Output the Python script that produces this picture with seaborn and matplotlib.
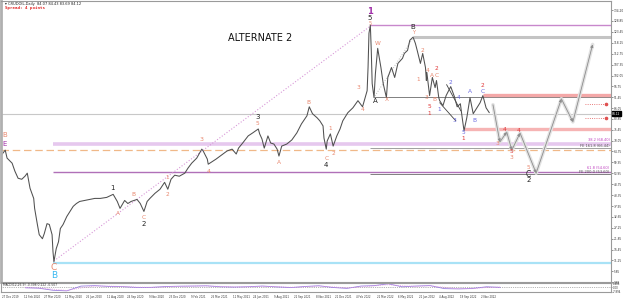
import matplotlib
matplotlib.use("Agg")
import matplotlib.pyplot as plt
import matplotlib.dates as mdates
import matplotlib.transforms as mtransforms
import pandas as pd
import seaborn as sns

sns.set_theme(style="white")
plt.rcParams["font.family"] = ["DejaVu Sans"]

# daily close (turning points)
price_dates = [
    "2019-12-23", "2020-01-02", "2020-01-06", "2020-01-17", "2020-01-23", "2020-01-30",
    "2020-02-07", "2020-02-14", "2020-02-19", "2020-02-25", "2020-03-04", "2020-03-06",
    "2020-03-09", "2020-03-12", "2020-03-16", "2020-03-23", "2020-03-27", "2020-04-02",
    "2020-04-07", "2020-04-13", "2020-04-15", "2020-04-17", "2020-04-22", "2020-04-27",
    "2020-05-01", "2020-05-07", "2020-05-15", "2020-05-22", "2020-05-29", "2020-06-05",
    "2020-06-12", "2020-06-23", "2020-07-03", "2020-07-15", "2020-07-27", "2020-08-10",
    "2020-08-24", "2020-09-02", "2020-09-08", "2020-09-14", "2020-09-18", "2020-09-25",
    "2020-10-02", "2020-10-15", "2020-10-22", "2020-10-30", "2020-11-06", "2020-11-12",
    "2020-11-23", "2020-12-04", "2020-12-14", "2020-12-21", "2020-12-28", "2021-01-05",
    "2021-01-15", "2021-01-27", "2021-02-03", "2021-02-11", "2021-02-22", "2021-03-05",
    "2021-03-08", "2021-03-17", "2021-03-19", "2021-03-29", "2021-04-05", "2021-04-14",
    "2021-04-29", "2021-05-10", "2021-05-19", "2021-05-24", "2021-06-02", "2021-06-14",
    "2021-06-24", "2021-07-06", "2021-07-09", "2021-07-14", "2021-07-19", "2021-07-27",
    "2021-08-02", "2021-08-09", "2021-08-16", "2021-08-20", "2021-08-26", "2021-09-06",
    "2021-09-17", "2021-09-28", "2021-10-08", "2021-10-20", "2021-10-25", "2021-11-01",
    "2021-11-11", "2021-11-17", "2021-11-24", "2021-11-26", "2021-12-01", "2021-12-03",
    "2021-12-10", "2021-12-16", "2021-12-24", "2021-12-31", "2022-01-06", "2022-01-17",
    "2022-01-28", "2022-02-08", "2022-02-18", "2022-02-28", "2022-03-02", "2022-03-04",
    "2022-03-07", "2022-03-09", "2022-03-11", "2022-03-15", "2022-03-18", "2022-03-22",
    "2022-03-23", "2022-03-30", "2022-04-04", "2022-04-11", "2022-04-14", "2022-04-22",
    "2022-04-29", "2022-05-06", "2022-05-16", "2022-05-20", "2022-05-27", "2022-06-01",
    "2022-06-08", "2022-06-13", "2022-06-17", "2022-06-24", "2022-06-29", "2022-07-05",
    "2022-07-07", "2022-07-08", "2022-07-14", "2022-07-20", "2022-07-26", "2022-07-29",
    "2022-08-03", "2022-08-05", "2022-08-12", "2022-08-19", "2022-08-29", "2022-09-06",
    "2022-09-12", "2022-09-19", "2022-09-23", "2022-09-27", "2022-10-03", "2022-10-10",
    "2022-10-17", "2022-10-25", "2022-11-01", "2022-11-07", "2022-11-14", "2022-11-21",
]
price_close = [
    62.5, 65.4, 61.5, 59.0, 55.1, 51.6,
    51.1, 52.6, 54.1, 46.7, 41.7, 36.8,
    32.8, 28.9, 23.9, 21.9, 24.4, 29.3,
    28.9, 23.9, 15.5, 10.6, 17.0, 20.4,
    26.9, 28.9, 32.8, 35.3, 37.8, 39.2,
    40.2, 40.7, 41.2, 41.7, 41.7, 42.2,
    43.7, 40.2, 36.8, 39.2, 40.7, 39.2,
    40.2, 41.2, 39.2, 35.3, 40.2, 41.7,
    44.2, 46.2, 49.6, 46.2, 51.1, 53.1,
    52.6, 54.1, 56.6, 59.0, 61.5, 65.9,
    65.0, 61.0, 58.5, 60.0, 61.0, 62.5,
    65.0, 65.9, 63.5, 66.4, 68.9, 72.4,
    73.9, 75.8, 73.4, 70.9, 66.4, 72.4,
    68.9, 68.4, 65.9, 62.5, 67.4, 68.4,
    70.4, 73.9, 78.3, 82.3, 86.7, 83.3,
    81.3, 79.8, 77.3, 71.4, 65.9, 69.9,
    73.4, 67.4, 72.4, 75.8, 79.8, 83.8,
    86.2, 89.7, 86.7, 94.6, 106.0, 122.8,
    126.8, 114.4, 98.1, 91.2, 103.0, 112.9,
    115.4, 106.0, 98.1, 91.2, 101.1, 106.0,
    101.1, 108.0, 110.5, 112.9, 114.4, 119.4,
    120.9, 117.9, 114.4, 108.0, 112.9, 106.0,
    99.6, 103.6, 92.2, 101.1, 96.1, 99.6,
    91.2, 89.7, 87.2, 92.2, 96.6, 91.7,
    86.7, 88.2, 81.3, 74.9, 81.3, 91.2,
    83.3, 86.2, 88.7, 92.2, 86.2, 83.8,
]

# projected path (arrows)
proj_dates = ["2022-11-29", "2022-12-14", "2022-12-29", "2023-01-09", "2023-01-27",
              "2023-03-03", "2023-04-27", "2023-05-22", "2023-07-04"]
proj_price = [87.7, 69.4, 74.3, 65.4, 73.8, 54.1, 90.6, 79.3, 117.3]

ytick_labels = ["0.65", "5.85", "11.25", "16.45", "21.85", "27.25", "32.65", "37.95",
                "43.35", "48.75", "53.95", "59.35", "64.75", "70.05", "75.45", "80.85",
                "86.05", "91.45", "96.75", "102.05", "107.35", "112.75", "118.15",
                "123.45", "128.85", "134.20"]

date_ticks = ["2019-12-27", "2020-02-12", "2020-03-27", "2020-05-12", "2020-06-26",
              "2020-08-11", "2020-09-24", "2020-11-09", "2020-12-23", "2021-02-09",
              "2021-03-25", "2021-05-11", "2021-06-24", "2021-08-09", "2021-09-22",
              "2021-11-08", "2021-12-21", "2022-02-04", "2022-03-22", "2022-05-06",
              "2022-06-21", "2022-08-04", "2022-09-19", "2022-11-02"]
date_labels = ["27 Dec 2019", "12 Feb 2020", "27 Mar 2020", "12 May 2020", "26 Jun 2020",
               "11 Aug 2020", "24 Sep 2020", "9 Nov 2020", "23 Dec 2020", "9 Feb 2021",
               "25 Mar 2021", "11 May 2021", "24 Jun 2021", "9 Aug 2021", "22 Sep 2021",
               "8 Nov 2021", "21 Dec 2021", "4 Feb 2022", "22 Mar 2022", "6 May 2022",
               "21 Jun 2022", "4 Aug 2022", "19 Sep 2022", "2 Nov 2022"]

macd_main = [-1.2, -1.8, -5.5, -6.5, 1.8, 2.6, 1.2, 0.8, -0.6, -0.4, 1.0, 1.6,
             1.9, 2.3, 0.6, 0.1, 0.7, 1.9, 0.4, -0.8, 1.1, 2.4, -0.6, -2.2,
             1.9, 2.6, 5.8, 0.6, 1.9, 2.7, -2.6, -3.1, -2.4, 0.6, -0.4]
macd_signal = [-0.5, -1.5, -3.5, -5.8, -1.5, 1.8, 1.8, 1.0, 0.1, -0.4, 0.4, 1.3,
               1.8, 2.1, 1.3, 0.4, 0.5, 1.4, 1.0, -0.2, 0.4, 1.8, 0.6, -1.3,
               0.2, 2.2, 4.2, 2.4, 1.3, 2.3, -0.2, -2.7, -2.7, -0.6, 0.0]

# wave labels: (date, price, text, colour, size)
ORG, RED, BLU, BLK, PUR, CYN = "#e8876e", "#e03535", "#6a6ae0", "#222222", "#a030a8", "#38b8f0"
wave_labels = [
    ("2020-01-01", 72.6, "B", ORG, 5), ("2020-01-01", 68.2, "E", PUR, 5),
    ("2020-08-23", 46.7, "1", BLK, 5), ("2020-09-03", 34.3, "A", ORG, 4.2),
    ("2020-10-06", 43.7, "B", ORG, 4.2), ("2020-10-29", 32.3, "C", ORG, 4.2),
    ("2020-10-29", 29.0, "2", BLK, 5), ("2020-04-17", 7.9, "C", ORG, 6.5),
    ("2020-04-17", 4.0, "B", CYN, 6.5), ("2020-12-20", 52.1, "1", ORG, 4.2),
    ("2020-12-20", 43.7, "2", ORG, 4.2), ("2021-03-05", 70.4, "3", ORG, 4.5),
    ("2021-03-19", 55.1, "4", ORG, 4.5), ("2021-07-04", 81.8, "3", BLK, 5),
    ("2021-07-04", 78.6, "5", ORG, 4.2), ("2021-08-20", 59.5, "A", ORG, 4.2),
    ("2021-10-23", 89.0, "B", ORG, 4.2), ("2021-12-01", 61.3, "C", ORG, 4.2),
    ("2021-12-01", 58.0, "4", BLK, 5), ("2021-12-10", 75.8, "1", ORG, 4.2),
    ("2021-12-17", 63.6, "2", ORG, 4.2), ("2022-02-10", 96.1, "3", ORG, 4.2),
    ("2022-02-19", 85.2, "4", ORG, 4.2), ("2022-03-06", 133.6, "1", PUR, 6),
    ("2022-03-06", 130.3, "5", BLK, 5), ("2022-03-06", 127.6, "5", ORG, 3.6),
    ("2022-03-23", 117.9, "W", ORG, 4.2), ("2022-03-17", 89.7, "A", BLK, 5),
    ("2022-04-12", 90.2, "X", ORG, 4.2), ("2022-06-08", 126.0, "B", BLK, 5),
    ("2022-06-08", 123.3, "Y", ORG, 3.6), ("2022-06-29", 114.4, "2", ORG, 4.2),
    ("2022-06-20", 100.1, "1", ORG, 4.2), ("2022-07-10", 104.5, "4", ORG, 4.2),
    ("2022-07-07", 91.2, "3", ORG, 4.2), ("2022-07-20", 102.1, "A", ORG, 4.2),
    ("2022-07-30", 105.5, "2", RED, 4.2), ("2022-07-30", 102.1, "C", ORG, 4.2),
    ("2022-07-25", 90.2, "B", ORG, 4.2), ("2022-07-13", 86.7, "5", RED, 4.2),
    ("2022-07-13", 83.6, "1", RED, 4.2), ("2022-08-05", 85.2, "1", BLU, 4.2),
    ("2022-08-29", 98.6, "2", BLU, 4.2), ("2022-09-14", 91.2, "4", BLU, 4.2),
    ("2022-09-07", 79.8, "3", BLU, 4.2), ("2022-10-10", 94.1, "A", BLU, 4.2),
    ("2022-10-19", 79.8, "B", BLU, 4.2), ("2022-09-26", 73.9, "5", BLU, 4.2),
    ("2022-09-26", 70.9, "1", RED, 4.2), ("2022-11-07", 97.1, "2", RED, 4.2),
    ("2022-11-07", 94.1, "C", BLU, 4.2), ("2022-12-08", 68.9, "3", ORG, 4.2),
    ("2022-12-25", 75.3, "4", RED, 4.2), ("2023-01-23", 74.9, "4", RED, 4.2),
    ("2023-01-09", 64.5, "5", RED, 4.2), ("2023-01-09", 61.8, "3", ORG, 4.2),
    ("2023-02-14", 57.0, "5", ORG, 4.2), ("2023-02-14", 53.6, "C", BLK, 5.5),
    ("2023-02-14", 50.5, "2", BLK, 5),
]

fig = plt.figure(figsize=(6.25, 3.01), dpi=100)
ax = fig.add_axes([1 / 625, 19 / 301, 610 / 625, 281 / 301])
axm = fig.add_axes([1 / 625, 9 / 301, 610 / 625, 9 / 301], sharex=ax)

x0, x1 = pd.Timestamp("2019-12-23 19:00"), pd.Timestamp("2023-08-13")
right = x1


def d(s):
    return mdates.date2num(pd.Timestamp(s))


# horizontal levels
ax.hlines(83.3, d(x0), d(x1), color="#c8c8c8", lw=0.8)  # bid line
ax.hlines(126.8, d("2022-03-07"), d(right), color="#c888cc", lw=1.0)
ax.hlines(120.9, d("2022-06-08"), d(right), color="#c4c4c4", lw=2.2)
ax.hlines(91.7, d("2022-03-15"), d(right), color="#808080", lw=0.7)
ax.hlines(92.6, d("2022-11-07"), d(right), color="#f4a8a8", lw=2.4)
ax.hlines(75.8, d("2022-09-27"), d(right), color="#f6b4b4", lw=2.4)
ax.hlines(68.4, d("2020-04-15"), d(right), color="#e6c8ee", lw=2.6)
ax.hlines(66.4, d("2022-03-07"), d(right), color="#909090", lw=0.6)
ax.hlines(65.45, d(x0), d(right), color="#f0b888", lw=0.9, linestyles=(0, (6, 3)))
ax.hlines(54.6, d("2020-04-15"), d(right), color="#b070b8", lw=1.0)
ax.hlines(53.6, d("2022-03-07"), d(right), color="#808080", lw=0.7)
ax.hlines(10.0, d("2020-04-15"), d(right), color="#a8e2f6", lw=1.6)
for lvl in (88.2, 81.3):
    ax.hlines(lvl, d("2023-06-17"), d("2023-08-01"), color="#e05050", lw=0.6, linestyles=":")
    ax.plot(d("2023-08-03"), lvl, marker="o", ms=1.6, color="#e05050")

# dotted trend lines
ax.plot([d("2020-04-17"), d("2022-03-07")], [11.0, 126.3], ls=":", lw=0.8, color="#d898d8")
ax.plot([d("2022-03-17"), d("2022-06-08")], [92.0, 120.5], ls=":", lw=0.7, color="#b8b8b8")
ax.plot([d("2022-08-05"), d("2022-09-09")], [88.7, 79.8], lw=0.6, color="#404040")
ax.plot([d("2022-08-20"), d("2022-09-20")], [97.6, 84.7], lw=0.6, color="#404040")

# price
df = pd.DataFrame({"date": pd.to_datetime(price_dates), "close": price_close})
sns.lineplot(data=df, x="date", y="close", ax=ax, color="#505050", lw=0.75)

# projected path with shadow and arrow heads
pj = pd.DataFrame({"date": pd.to_datetime(proj_dates), "price": proj_price})
sns.lineplot(data=pj, x="date", y="price", ax=ax, color="#e2e2e2", lw=2.6)
for i in range(len(pj) - 1):
    ax.annotate("", xy=(d(pj.date[i + 1]), pj.price[i + 1]),
                xytext=(d(pj.date[i]), pj.price[i]),
                arrowprops=dict(arrowstyle="-|>", color="#8c8c8c", lw=0.6,
                                mutation_scale=4, shrinkA=0, shrinkB=0))

for dt, p, t, c, s in wave_labels:
    ax.text(d(dt), p, t, color=c, fontsize=s, ha="center", va="center",
            fontweight="bold" if c == PUR and s >= 6 else "normal")

ax.text(d("2021-07-10"), 120.4, "ALTERNATE 2", fontsize=7, ha="center", va="center",
        color="#111111")

# fibo texts at right
ax.text(d("2023-08-10"), 69.6, "38.2 (68.40)", color="#c040c0", fontsize=2.6, ha="right", va="bottom")
ax.text(d("2023-08-10"), 66.7, "FE 161.8 (66.44)", color="#505050", fontsize=2.6, ha="right", va="bottom")
ax.text(d("2023-08-10"), 55.5, "61.8 (54.60)", color="#c040c0", fontsize=2.6, ha="right", va="bottom")
ax.text(d("2023-08-10"), 53.9, "FE 200.0 (53.60)", color="#505050", fontsize=2.6, ha="right", va="bottom")

ax.set_xlim(d(x0), d(x1))
ax.set_ylim(0.67, 138.65)
ax.set_xlabel("")
ax.set_ylabel("")
ax.yaxis.tick_right()
ax.set_yticks([float(v) for v in ytick_labels])
ax.set_yticklabels(ytick_labels, fontsize=2.1, color="#333333")
ax.tick_params(axis="y", length=1.2, width=0.5, pad=0.6, color="#666666")
ax.tick_params(axis="x", length=0, labelbottom=False)
for side, sp in ax.spines.items():
    sp.set_color("#9a9a9a")
    sp.set_linewidth(0.8)
ax.spines["left"].set_linewidth(2.0)
ax.spines["left"].set_color("#b0b0b0")

# current price box
tr = mtransforms.blended_transform_factory(ax.transAxes, ax.transData)
ax.text(1.002, 83.3, "84.12", transform=tr, fontsize=2.1, color="white", ha="left", va="center",
        bbox=dict(boxstyle="square,pad=0.2", fc="black", ec="black"))

# MACD panel
mdf = pd.DataFrame({"date": pd.date_range("2020-01-15", periods=len(macd_main), freq="MS")
                    + pd.Timedelta(days=14),
                    "main": macd_main, "signal": macd_signal})
axm.axhline(0, color="#707070", lw=0.5, ls=":")
sns.lineplot(data=mdf, x="date", y="main", ax=axm, color="#9a7ee0", lw=0.6)
sns.lineplot(data=mdf, x="date", y="signal", ax=axm, color="#e090e0", lw=0.6, ls=":")
axm.set_ylim(-8.5, 7.2)
axm.set_xlabel("")
axm.set_ylabel("")
axm.yaxis.tick_right()
axm.set_yticks([6.405, 0.0, -7.894])
axm.set_yticklabels(["6.405", "0.00", "-7.894"], fontsize=1.9, color="#333333")
axm.tick_params(axis="y", length=1.0, width=0.5, pad=0.6, color="#666666")
axm.set_xticks([d(t) for t in date_ticks])
axm.set_xticklabels(date_labels, fontsize=1.9, ha="left", color="#333333")
axm.tick_params(axis="x", length=1.5, width=0.5, pad=1.0, color="#666666")
for sp in axm.spines.values():
    sp.set_color("#9a9a9a")
    sp.set_linewidth(0.8)
axm.text(0.004, 0.78, "MACD(12,26,9) -0.398 0.222 -0.507", transform=axm.transAxes,
         fontsize=2.2, color="#333333", va="center")

# header
fig.text(5 / 625, 1 - 3.5 / 301, "\u25be CRUDOIL,Daily  84.07 84.43 83.69 84.12",
         fontsize=2.6, color="#222222", va="center")
fig.text(5 / 625, 1 - 8.5 / 301, "Spread: 4 points", fontsize=3.0, color="#e02020",
         va="center", family="DejaVu Sans Mono", fontweight="bold")

fig.savefig("out.png", dpi=100)
